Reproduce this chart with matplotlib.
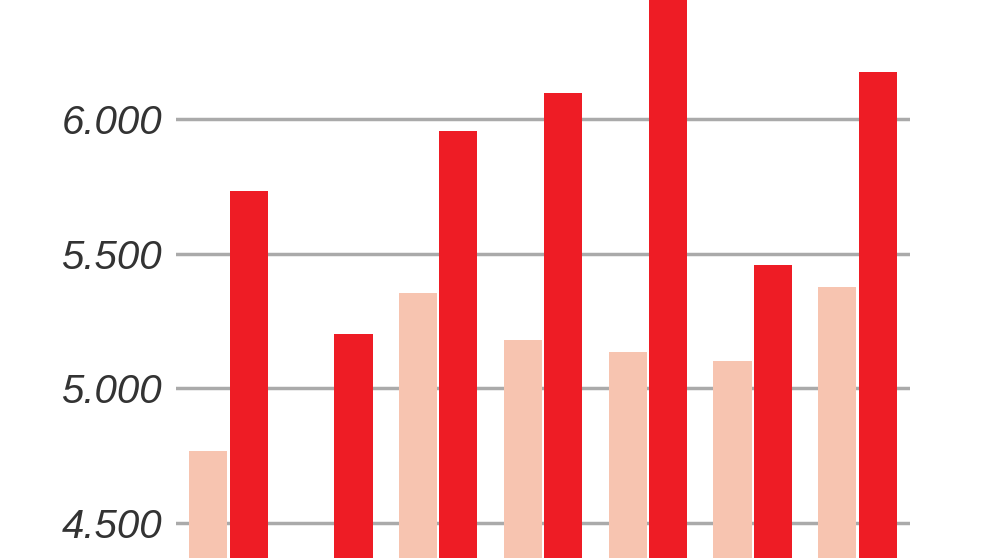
import numpy as np
import matplotlib.pyplot as plt

# values (light = previous, red = current)
groups = np.arange(7)
light_vals = [4767, 4300, 5355, 5179, 5135, 5102, 5377]
red_vals = [5734, 5202, 5955, 6097, 6450, 5458, 6175]
yticks = [4500, 5000, 5500, 6000]
ytick_labels = ["4.500", "5.000", "5.500", "6.000"]

LIGHT = "#F7C4B0"
RED = "#EE1C25"
BAR_W = 0.363
OFF = 0.193

fig = plt.figure(figsize=(9.92, 5.58), dpi=100)
ax = fig.add_axes([176 / 992, 0, (910 - 176) / 992, 1])

ax.bar(groups - OFF, light_vals, width=BAR_W, color=LIGHT, zorder=2)
ax.bar(groups + OFF, red_vals, width=BAR_W, color=RED, zorder=2)

ax.set_xlim(-0.5, 6.5)
ax.set_ylim(4370, 6442)
ax.set_yticks(yticks)
ax.set_yticklabels(ytick_labels, family="Liberation Sans", style="italic",
                   fontsize=29, color="#333333")
ax.tick_params(axis="y", length=0, pad=10)
ax.set_xticks([])
ax.yaxis.grid(True, color="#aaaaaa", linewidth=2.5)
ax.set_axisbelow(True)
for s in ax.spines.values():
    s.set_visible(False)

fig.savefig("out.png", dpi=100)
